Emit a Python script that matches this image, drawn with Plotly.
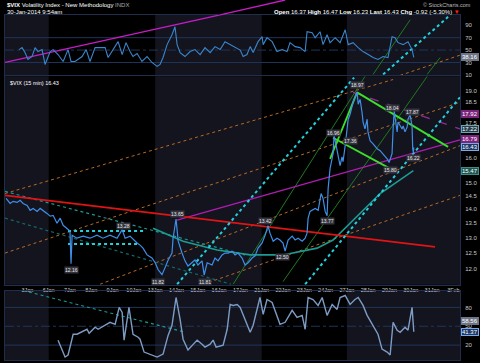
import math
import plotly.graph_objects as go

# ---------------- data (x = trading-day index, 0 = 2 Jan open) ----------------
day_ticks = list(range(1, 22))
day_labels = ["3Jan", "6Jan", "7Jan", "8Jan", "9Jan", "10Jan", "13Jan", "14Jan", "15Jan", "16Jan",
              "17Jan", "21Jan", "22Jan", "23Jan", "24Jan", "27Jan", "28Jan", "29Jan", "30Jan", "31Jan", "3Feb"]
week_starts = [-0.05, 2, 7, 12, 16]
week_ends = [2, 7, 12, 16, 21.31]

price_t = [0.00,0.19,0.33,0.52,0.66,0.80,0.99,1.13,1.27,1.46,
           1.60,1.74,1.92,2.07,2.21,2.39,2.54,2.68,2.86,3.00,
           3.05,3.10,3.33,3.62,3.94,4.27,4.55,4.88,5.21,5.45,
           5.59,5.82,6.15,6.29,6.43,6.62,6.85,7.00,7.14,7.32,
           7.46,7.61,7.79,7.84,7.98,8.08,8.26,8.40,8.54,8.73,
           8.87,9.01,9.20,9.30,9.44,9.67,9.81,9.95,10.14,10.28,
           10.42,10.61,10.75,10.89,11.08,11.22,11.36,11.55,11.69,11.83,
           12.02,12.16,12.30,12.39,12.54,12.72,12.86,13.00,13.10,13.24,
           13.43,13.57,13.71,13.90,14.04,14.13,14.18,14.27,14.37,14.51,
           14.65,14.79,14.88,14.98,15.07,15.12,15.21,15.31,15.35,15.40,
           15.49,15.59,15.68,15.77,15.82,15.92,16.01,16.06,16.15,16.24,
           16.29,16.38,16.48,16.53,16.62,16.71,16.76,16.85,16.95,16.99,
           17.09,17.23,17.42,17.56,17.70,17.89,17.98,18.12,18.17,18.22,
           18.26,18.36,18.40,18.59,18.64,18.73,18.83,18.87,18.97,19.06,
           19.09,19.12,19.14]
price_v = [14.40,14.21,14.29,14.25,14.33,14.21,14.14,13.96,14.03,13.92,
           14.03,13.96,13.85,13.75,13.78,13.50,13.68,13.43,13.33,13.23,
           12.16,13.09,12.99,13.06,12.99,13.09,12.99,13.09,12.99,13.28,
           12.99,13.06,12.83,12.76,12.66,12.44,12.34,12.19,11.97,11.82,
           12.03,12.28,12.50,12.99,13.65,12.89,12.50,12.25,12.09,12.19,
           12.28,12.12,12.25,11.81,12.19,12.12,12.34,12.25,12.44,12.50,
           12.50,12.56,12.44,12.50,12.34,12.12,12.19,12.34,12.41,12.66,
           12.83,13.09,13.42,13.16,12.89,12.99,12.93,12.83,12.56,12.93,
           13.06,12.93,12.99,12.89,12.99,13.16,13.68,13.92,13.96,14.03,
           13.96,14.58,14.40,13.92,13.77,14.77,15.55,15.95,16.16,16.96,
           16.50,15.95,15.67,16.03,15.83,16.50,17.36,17.67,17.90,18.27,
           18.46,18.70,18.97,18.37,18.60,17.99,17.54,17.23,17.67,17.10,
           16.71,16.58,16.37,16.29,16.16,15.95,15.80,16.16,17.23,18.04,
           17.76,17.10,17.54,17.23,17.36,17.10,17.32,17.67,17.87,17.35,
           16.37,16.22,16.43]

ma_t = [6.90, 8.31, 9.91, 11.46, 13.00, 14.60, 15.35, 16.15, 17.56, 19.12]
ma_v = [13.33, 12.89, 12.60, 12.44, 12.44, 12.66, 12.93, 13.50, 14.58, 15.47]

rsi_t = [0.61,0.75,0.89,1.03,1.22,1.36,1.50,1.69,1.83,2.07,
         2.21,2.44,2.68,2.91,3.05,3.24,3.57,3.76,3.94,4.18,
         4.41,4.65,4.79,5.02,5.26,5.45,5.63,5.82,5.96,6.15,
         6.38,6.62,6.85,7.09,7.23,7.37,7.56,7.79,7.93,8.03,
         8.17,8.40,8.64,8.87,9.11,9.34,9.58,9.81,10.05,10.28,
         10.52,10.75,10.99,11.13,11.31,11.46,11.60,11.83,12.02,12.07,
         12.25,12.49,12.72,12.96,13.19,13.33,13.57,13.80,14.04,14.13,
         14.37,14.51,14.74,14.88,15.07,15.21,15.45,15.68,15.92,16.06,
         16.29,16.53,16.76,17.00,17.23,17.46,17.70,17.93,18.12,18.26,
         18.40,18.64,18.87,19.06,19.14]
rsi_v = [50.8,54,46,34.8,39.6,54,47.6,50.8,26.8,47.6,
         50.8,42.8,31.6,50.8,31.6,31.6,39.6,50.8,31.6,54,
         54,54,38,50.8,63.6,42.8,62,47.6,39.6,44.4,
         31.6,39.6,30,23.6,26.8,38,58.8,74.8,87.6,58.8,
         46,39.6,47.6,50.8,42.8,54,46,55.6,50.8,63.6,
         58.8,55.6,50,39.6,42.8,55.6,46,63.6,71.6,58.8,
         70,63.6,47.6,50.8,47.6,62,55.6,54,47.6,79.6,
         78,70,79.6,58.8,74.8,62,70,62,82.8,58.8,
         62,54,47.6,42.8,38,34.8,39.6,38,71.6,70,
         62,58.8,63.6,50.8,38.16]

sto_t = [2.44,2.77,2.91,3.15,3.33,3.80,3.90,4.18,4.32,4.88,
         5.12,5.31,5.45,5.54,5.77,5.96,6.20,6.29,6.48,6.76,
         7.09,7.37,7.61,7.79,7.98,8.17,8.31,8.54,8.78,8.97,
         9.20,9.34,9.58,9.72,9.86,10.19,10.38,10.52,10.66,10.85,
         10.99,11.22,11.46,11.60,11.78,11.92,12.07,12.25,12.49,12.72,
         12.86,13.10,13.43,13.66,13.90,14.04,14.18,14.41,14.65,14.84,
         15.07,15.31,15.54,15.68,15.92,16.15,16.38,16.53,16.76,16.95,
         17.18,17.46,17.65,17.89,18.03,18.17,18.36,18.50,18.73,18.87,
         19.06,19.10,19.14]
sto_v = [27.9,1.0,4.2,37.3,37.3,45.2,38.9,48.4,45.2,56.3,
         53.1,80,72.1,27.9,80,37.3,32.6,29.4,8.9,5.7,
         1.0,5.7,35.8,51.6,95.8,61.0,29.4,12.1,20.0,27.9,
         21.5,16.8,21.5,27.9,16.8,20.0,45.2,84.7,83.2,84.7,
         80,59.5,40.5,51.6,76.8,95.8,68.9,92.6,87.9,67.4,
         53.1,56.3,75.3,64.2,67.4,45.2,95.8,92.6,83.2,95.8,
         67.4,84.7,76.8,95.8,99.0,84.7,92.6,95.8,83.2,67.4,
         53.1,37.3,13.6,8.9,4.2,56.3,43.7,40.5,48.4,43.7,
         80,59.5,41.37]

# annotated highs / lows on the price panel
pt_label_text = ["12.16", "13.28", "13.65", "11.82", "11.81", "13.42", "12.50", "13.77",
                 "16.96", "17.36", "18.97", "18.04", "17.87", "15.80", "16.22"]
pt_label_t = [3.05, 5.49, 8.03, 7.14, 9.34, 12.16, 13.00, 15.07, 15.35, 16.15, 16.48, 18.12, 19.06, 18.03, 19.11]
pt_label_v = [11.97, 13.40, 13.82, 11.61, 11.61, 13.57, 12.38, 13.57, 17.05, 16.71, 19.30, 18.18, 17.99, 15.51, 16.00]

# trendlines (endpoints in data units)
red_t, red_v = [-0.05, 20.14], [14.51, 12.70]
cyanA_t, cyanA_v = [8.03, 16.34], [11.53, 19.68]
cyanB_t, cyanB_v = [14.04, 21.31], [11.53, 18.70]
cyanH1_t, cyanH1_v = [2.91, 6.53], [13.23, 13.23]
cyanH2_t, cyanH2_v = [2.91, 6.29], [12.80, 12.80]
tealT1_t, tealT1_v = [-0.05, 11.22], [14.66, 12.44]
tealT2_t, tealT2_v = [-0.05, 10.56], [13.68, 11.53]
orO1_t, orO1_v = [-0.05, 18.17], [14.58, 19.58]
orO2_t, orO2_v = [-0.05, 21.31], [12.50, 18.46]
orO3_t, orO3_v = [4.41, 21.31], [11.53, 16.50]
orO4_t, orO4_v = [9.25, 21.31], [11.53, 14.51]
magP1_t, magP1_v = [8.03, 21.31], [13.61, 16.75]
purP2_t, purP2_v = [16.29, 21.31], [18.94, 17.23]
grA_t, grA_v = [15.35, 18.03], [16.84, 15.55]
grB_t, grB_v = [16.48, 20.75], [18.94, 16.45]
grC_t, grC_v = [15.21, 16.48], [15.95, 18.94]
dg1_t, dg1_v = [10.66, 16.85], [11.53, 19.74]
dg2_t, dg2_v = [13.00, 19.77], [11.61, 19.74]
# trendlines on the RSI panel
rsiMag_t, rsiMag_v = [-0.05, 10.05], [30.3, 106.8]
rsiCyan_t, rsiCyan_v = [17.70, 20.75], [10.8, 103.6]
rsiOr_t, rsiOr_v = [18.50, 21.31], [9.2, 41.8]
rsiDg1_t, rsiDg1_v = [17.23, 18.97], [10.8, 98.8]
rsiDg2_t, rsiDg2_v = [19.77, 20.38], [10.8, 38.0]
# trendline on the lower panel
stoTeal_t, stoTeal_v = [0.80, 8.40], [106.9, 40.5]

main_ticks = [12, 12.5, 13, 13.5, 14, 14.5, 15, 16, 17.5, 18.5, 19]
rsi_ticks = [10, 30, 50, 70, 90]
sto_ticks = [20, 50, 80]

# ---------------- figure ----------------
H = 363.0
def py(p):  # pixel row -> paper y
    return 1 - p / H

FONT = "Liberation Sans, Arial, sans-serif"
SHADE = "#14141f"
BORDER = "#1f2e4c"

fig = go.Figure()

def line(t, v, xa, ya, color, width, dash="solid"):
    fig.add_trace(go.Scatter(x=t, y=v, xaxis=xa, yaxis=ya, mode="lines",
                             line=dict(color=color, width=width, dash=dash),
                             hoverinfo="skip", showlegend=False))

# main panel trendlines
line(orO1_t, orO1_v, "x2", "y2", "#b86a22", 1, "dot")
line(orO2_t, orO2_v, "x2", "y2", "#b86a22", 1, "dot")
line(orO3_t, orO3_v, "x2", "y2", "#b86a22", 1, "dot")
line(orO4_t, orO4_v, "x2", "y2", "#b86a22", 1, "dot")
line(tealT1_t, tealT1_v, "x2", "y2", "#1a9a94", 1.2, "dot")
line(tealT2_t, tealT2_v, "x2", "y2", "#136a66", 1.2, "dot")
line(dg1_t, dg1_v, "x2", "y2", "#1f7a1f", 1)
line(dg2_t, dg2_v, "x2", "y2", "#1f7a1f", 1)
line(magP1_t, magP1_v, "x2", "y2", "#b21cb2", 1.2)
line(purP2_t, purP2_v, "x2", "y2", "#9a2a9a", 1.2, "dash")
line(ma_t, ma_v, "x2", "y2", "#1c9c90", 1.6)
line(red_t, red_v, "x2", "y2", "#e01414", 1.8)
line(cyanA_t, cyanA_v, "x2", "y2", "#22d0dc", 2, "dot")
line(cyanB_t, cyanB_v, "x2", "y2", "#22d0dc", 2, "dot")
line(cyanH1_t, cyanH1_v, "x2", "y2", "#22d0dc", 2, "dot")
line(cyanH2_t, cyanH2_v, "x2", "y2", "#22d0dc", 2, "dot")
line(grA_t, grA_v, "x2", "y2", "#3ae02a", 1.8)
line(grB_t, grB_v, "x2", "y2", "#3ae02a", 1.8)
line(grC_t, grC_v, "x2", "y2", "#3ae02a", 1.8)
line(price_t, price_v, "x2", "y2", "#3f8fe8", 1.2)

# RSI panel
line(rsiMag_t, rsiMag_v, "x", "y", "#c81cc8", 1.3)
line(rsiCyan_t, rsiCyan_v, "x", "y", "#22d0dc", 2, "dot")
line(rsiOr_t, rsiOr_v, "x", "y", "#b86a22", 1, "dot")
line(rsiDg1_t, rsiDg1_v, "x", "y", "#1f7a1f", 1)
line(rsiDg2_t, rsiDg2_v, "x", "y", "#1f7a1f", 1)
line(rsi_t, rsi_v, "x", "y", "#3a86cc", 1.1)

# lower panel
line(stoTeal_t, stoTeal_v, "x3", "y3", "#1a9a94", 1.2, "dot")
line(sto_t, sto_v, "x3", "y3", "#7d9cc4", 1.4)

shapes = []
# weekly shading in each panel
for ya in ["y", "y2", "y3"]:
    for i, (a, b) in enumerate(zip(week_starts, week_ends)):
        if i % 2 == 0:
            shapes.append(dict(type="rect", xref="x", yref=ya + " domain", x0=a, x1=b, y0=0, y1=1,
                               fillcolor=SHADE, line=dict(width=0), layer="below"))
# reference levels
for lvl, d in [(70, "solid"), (30, "solid"), (50, "dashdot")]:
    shapes.append(dict(type="line", xref="x domain", yref="y", x0=0, x1=1, y0=lvl, y1=lvl,
                       line=dict(color="#1f3558", width=1, dash=d), layer="below"))
for lvl, d in [(80, "solid"), (20, "solid"), (50, "dashdot")]:
    shapes.append(dict(type="line", xref="x domain", yref="y3", x0=0, x1=1, y0=lvl, y1=lvl,
                       line=dict(color="#1f3558", width=1, dash=d), layer="below"))
# continuation of the magenta RSI trendline into the header
shapes.append(dict(type="line", xref="x", yref="paper", x0=rsiMag_t[1], x1=13.10, y0=py(15), y1=1.0,
                   line=dict(color="#c81cc8", width=1.3)))

ann = []
def box(text, yref, yval, bg, fg="#ffffff", border=None):
    ann.append(dict(text=text, xref="paper", yref=yref, x=1.003, y=yval, xanchor="left", yanchor="middle",
                    showarrow=False, font=dict(size=6, color=fg, family=FONT), bgcolor=bg,
                    bordercolor=border if border else bg, borderwidth=1, borderpad=0))

box("17.92", "y2", math.log10(17.92), "#7c237c")
box("17.22", "y2", math.log10(17.22), "#243f4c", border="#6aa6b0")
box("16.79", "y2", math.log10(16.79), "#7c237c")
box("16.43", "y2", math.log10(16.43), "#1c3866", border="#7aa8e8")
box("15.47", "y2", math.log10(15.47), "#1d5552", border="#3c8c86")
box("38.16", "y", 38.16, "#6d7584")
box("58.56", "y3", 58.56, "#6d7584")
box("41.37", "y3", 41.37, "#1c3866", border="#7aa8e8")

for txt, t, v in zip(pt_label_text, pt_label_t, pt_label_v):
    ann.append(dict(text=txt, xref="x2", yref="y2", x=t, y=math.log10(v), showarrow=False,
                    font=dict(size=5, color="#e6e6e6", family=FONT), bgcolor="#34343e", borderpad=0))

# header texts
ann.append(dict(text="<b>$VIX</b> Volatility Index - New Methodology <span style='color:#aaaaaa'>INDX</span>",
                xref="paper", yref="paper", x=0, y=py(5), xanchor="left", yanchor="middle", showarrow=False,
                font=dict(size=6, color="#ffffff", family=FONT)))
ann.append(dict(text="30-Jan-2014 9:54am", xref="paper", yref="paper", x=0, y=py(12),
                xanchor="left", yanchor="middle", showarrow=False, font=dict(size=6, color="#ffffff", family=FONT)))
ann.append(dict(text="© StockCharts.com", xref="paper", yref="paper", x=(473 - 5) / 455, y=py(5),
                xanchor="right", yanchor="middle", showarrow=False, font=dict(size=5.5, color="#bbbbbb", family=FONT)))
ann.append(dict(text="<b>Open</b> 16.37 <b>High</b> 16.47 <b>Low</b> 16.23 <b>Last</b> 16.43 <b>Chg</b> -0.92 (-5.30%) <span style='color:#ff2020'>▼</span>",
                xref="paper", yref="paper", x=(462 - 5) / 455, y=py(12), xanchor="right", yanchor="middle",
                showarrow=False, font=dict(size=6, color="#ffffff", family=FONT)))
ann.append(dict(text="$VIX (15 min) 16.43", xref="paper", yref="paper", x=(8 - 5) / 455, y=py(84),
                xanchor="left", yanchor="middle", showarrow=False, font=dict(size=5.5, color="#ffffff", family=FONT)))

XR = [-0.05, 21.31]
axis_common = dict(showgrid=False, zeroline=False, showline=True, mirror=True, linecolor=BORDER, linewidth=1)
yax_common = dict(showgrid=False, zeroline=False, showline=True, mirror=True, linecolor=BORDER, linewidth=1,
                  side="right", ticks="", tickfont=dict(size=6, color="#c8c8c8", family=FONT), ticklabelstandoff=3)

fig.update_layout(
    width=480, height=363, margin=dict(l=5, r=20, t=0, b=0),
    paper_bgcolor="#000000", plot_bgcolor="#000000",
    showlegend=False, hovermode=False,
    xaxis=dict(domain=[0, 1], anchor="y", range=XR, showticklabels=False, **axis_common),
    yaxis=dict(domain=[py(76), py(15)], anchor="x", range=[9.2, 106.8], tickvals=rsi_ticks, **yax_common),
    xaxis2=dict(domain=[0, 1], anchor="y2", range=XR, tickvals=day_ticks, ticktext=day_labels, ticks="",
                tickfont=dict(size=5.5, color="#d0d0d0", family=FONT), **axis_common),
    yaxis2=dict(domain=[py(287), py(77)], anchor="x2", type="log",
                range=[math.log10(11.52), math.log10(19.74)], tickvals=main_ticks,
                ticktext=[f"{v:.1f}" for v in main_ticks], **yax_common),
    xaxis3=dict(domain=[0, 1], anchor="y3", range=XR, showticklabels=False, **axis_common),
    yaxis3=dict(domain=[0, py(293)], anchor="x3", range=[-3.7, 106.8], tickvals=sto_ticks, **yax_common),
    shapes=shapes, annotations=ann,
)

fig.write_html("out.html", config={"displayModeBar": False},
               post_script="document.body.style.margin='0';document.body.style.overflow='hidden';")
